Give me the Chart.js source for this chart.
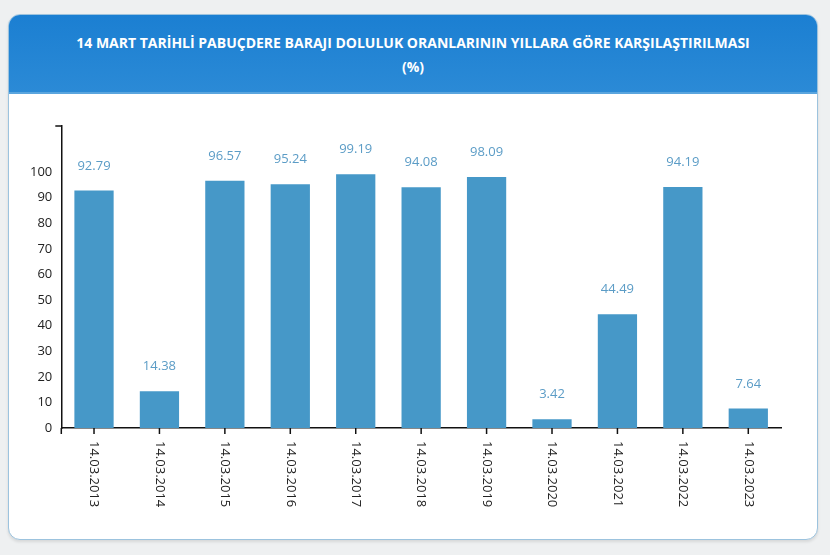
<!DOCTYPE html>
<html><head><meta charset="utf-8">
<script src="https://cdn.jsdelivr.net/npm/chart.js@4"></script>
<style>
body{margin:0;background:#eef0f1;font-family:"Open Sans",sans-serif;}
#card{position:absolute;left:8px;top:14px;width:808px;height:524px;background:#fff;border:1px solid #9cc3de;border-radius:12px;overflow:hidden;box-shadow:0 2px 3px rgba(0,0,0,0.1);}
#hdr{height:79px;background:linear-gradient(#1b7fd2,#2b8ad6);color:#fff;font-weight:bold;font-size:14px;text-align:center;line-height:24px;padding-top:16px;box-sizing:border-box;border-bottom:2px solid #5aa5de}
#wrap{position:absolute;left:0;top:79px;width:808px;height:445px;}
</style></head><body>
<div id="card"><div id="hdr">14 MART TARİHLİ PABUÇDERE BARAJI DOLULUK ORANLARININ YILLARA GÖRE KARŞILAŞTIRILMASI<br>(%)</div>
<div id="wrap"><canvas id="c"></canvas></div></div>
<script>
const categories=["14.03.2013","14.03.2014","14.03.2015","14.03.2016","14.03.2017","14.03.2018","14.03.2019","14.03.2020","14.03.2021","14.03.2022","14.03.2023"];
const values=[92.79,14.38,96.57,95.24,99.19,94.08,98.09,3.42,44.49,94.19,7.64];
const labelsPlugin={id:'lbl',afterDatasetsDraw(ch){
 const ctx=ch.ctx,xs=ch.scales.x,ys=ch.scales.y,meta=ch.getDatasetMeta(0);
 ctx.save();ctx.font='13px "Open Sans"';ctx.fillStyle='#5b9cc6';ctx.textAlign='center';ctx.textBaseline='bottom';
 meta.data.forEach((b,i)=>{ctx.fillText(values[i].toFixed(2),b.x,b.y-18);});
 ctx.fillStyle='#222';ctx.textAlign='left';ctx.textBaseline='middle';
 categories.forEach((c,i)=>{const x=xs.getPixelForValue(i);ctx.save();ctx.translate(x,ys.bottom+13);ctx.rotate(Math.PI/2);ctx.fillText(c,0,0);ctx.restore();
  ctx.strokeStyle='#111';ctx.lineWidth=1.5;ctx.beginPath();ctx.moveTo(x,ys.bottom);ctx.lineTo(x,ys.bottom+6);ctx.stroke();});
 ctx.strokeStyle='#111';ctx.lineWidth=1.5;ctx.beginPath();ctx.moveTo(ys.right-6,ys.top);ctx.lineTo(ys.right,ys.top);ctx.stroke();
 ctx.beginPath();ctx.moveTo(ys.right,ys.bottom);ctx.lineTo(ys.right,ys.bottom+6);ctx.stroke();
 ctx.restore();}};
new Chart(document.getElementById('c'),{type:'bar',
 data:{labels:categories,datasets:[{data:values,backgroundColor:'#4698c8',barPercentage:0.6,categoryPercentage:1}]},
 options:{responsive:true,maintainAspectRatio:false,animation:false,
 layout:{padding:{left:18,right:36,top:32,bottom:103}},
 plugins:{legend:{display:false},tooltip:{enabled:false}},
 scales:{x:{grid:{display:false},border:{color:'#111',width:1.5},ticks:{display:false}},
  y:{min:0,max:118,afterBuildTicks(s){s.ticks=[0,10,20,30,40,50,60,70,80,90,100].map(v=>({value:v}));},
   grid:{display:false,drawOnChartArea:false,drawTicks:true,tickLength:6,tickColor:'#111'},border:{color:'#111',width:1.5},
   ticks:{color:'#222',font:{size:13,family:'"Open Sans"'},padding:3}}}},
 plugins:[labelsPlugin]});
</script></body></html>
